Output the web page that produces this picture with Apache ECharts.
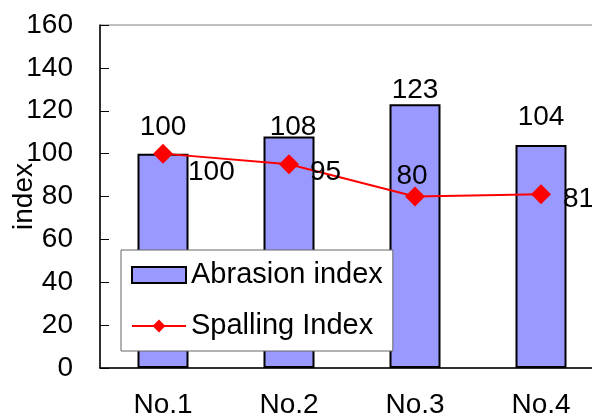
<!DOCTYPE html>
<html><head><meta charset="utf-8">
<script src="https://cdn.jsdelivr.net/npm/echarts@6/dist/echarts.min.js"></script>
<style>html,body{margin:0;padding:0;background:#fff}#c{width:592px;height:418px}</style>
</head><body><div id="c"></div>
<script>
const categories = ['No.1', 'No.2', 'No.3', 'No.4'];
const abrasionIndex = [100, 108, 123, 104];
const spallingIndex = [100, 95, 80, 81];
const yTicks = [0, 20, 40, 60, 80, 100, 120, 140, 160];

const FONT = '"Liberation Sans", Arial, sans-serif';
const barLabelCfg = [
  {offset: [0, -12]},
  {offset: [4, 5]},
  {offset: [0, 0]},
  {offset: [0, -14]}
];
const lineLabelCfg = [
  {position: 'right', offset: [10, 19]},
  {position: 'right', offset: [6, 8]},
  {position: 'top', offset: [-3, 9]},
  {position: 'right', offset: [7, 5]}
];

const chart = echarts.init(document.getElementById('c'));
chart.setOption({
  animation: false,
  backgroundColor: '#fff',
  textStyle: {fontFamily: FONT},
  grid: {left: 100, top: 25, bottom: 50, right: -12, outerBoundsMode: 'none', containLabel: false,
         show: true, borderColor: '#808080', borderWidth: 1},
  legend: {
    left: 121, top: 250, orient: 'vertical',
    backgroundColor: '#fff', borderColor: '#666', borderWidth: 1,
    padding: [10, 10, 10, 10], itemGap: 21, itemWidth: 54, itemHeight: 16,
    textStyle: {fontSize: 29, color: '#000', fontFamily: FONT, lineHeight: 30},
    z: 10,
    data: [
      {name: 'Abrasion index', icon: 'rect', itemStyle: {color: '#9999FF', borderColor: '#000', borderWidth: 2}},
      {name: 'Spalling Index', lineStyle: {width: 2, color: '#FF0000'}, itemStyle: {color: '#FF0000', borderWidth: 0}}
    ]
  },
  xAxis: {
    type: 'category', data: categories,
    axisLine: {lineStyle: {color: '#000', width: 1.5}},
    axisTick: {inside: true, length: 9, lineStyle: {color: '#999'}},
    axisLabel: {fontSize: 28, color: '#000', margin: 23, fontFamily: FONT}
  },
  yAxis: {
    type: 'value', min: yTicks[0], max: yTicks[yTicks.length - 1], interval: yTicks[1] - yTicks[0],
    name: 'index', nameLocation: 'middle', nameGap: 62, nameMoveOverlap: false,
    nameTextStyle: {fontSize: 28, color: '#000', fontFamily: FONT},
    axisLine: {show: true, lineStyle: {color: '#000', width: 1.5}},
    axisTick: {show: true, inside: true, length: 9, lineStyle: {color: '#000'}},
    splitLine: {show: false},
    axisLabel: {fontSize: 28, color: '#000', margin: 27, fontFamily: FONT}
  },
  series: [
    {
      name: 'Abrasion index', type: 'bar', barWidth: 51,
      data: abrasionIndex.map((v, i) => ({value: v, label: barLabelCfg[i]})),
      itemStyle: {color: '#9999FF', borderColor: '#000', borderWidth: 2},
      label: {show: true, position: 'top', distance: 0, fontSize: 28, color: '#000', fontFamily: FONT}
    },
    {
      name: 'Spalling Index', type: 'line',
      data: spallingIndex.map((v, i) => ({value: v, label: lineLabelCfg[i]})),
      symbol: 'diamond', symbolSize: 20,
      lineStyle: {color: '#FF0000', width: 2}, itemStyle: {color: '#FF0000'},
      label: {show: true, fontSize: 28, color: '#000', fontFamily: FONT}
    }
  ]
});
</script></body></html>
